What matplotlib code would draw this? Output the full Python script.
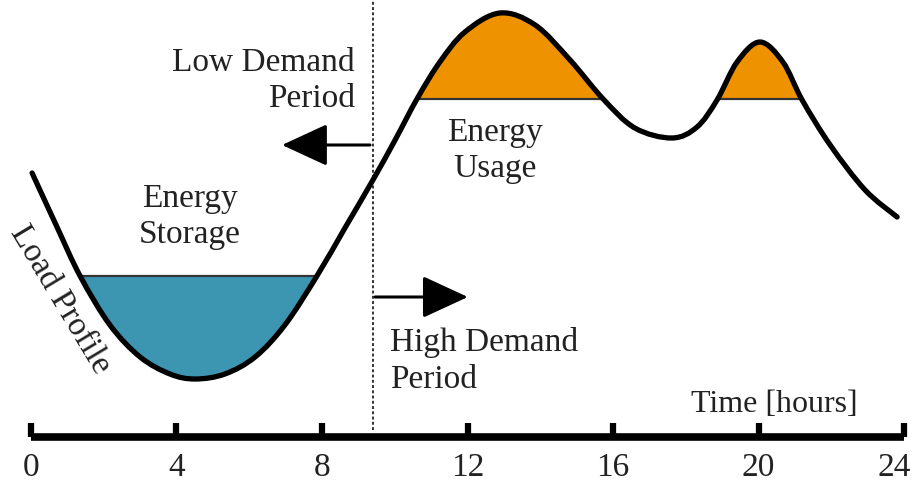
import matplotlib
matplotlib.use("Agg")
import matplotlib.pyplot as plt
import numpy as np
from matplotlib.path import Path
from matplotlib.patches import PathPatch, Rectangle, FancyArrowPatch

plt.rcParams["font.family"] = ["Liberation Serif", "DejaVu Serif"]

# ── Data ──────────────────────────────────────────────────────────────────────
HOURS = [0.03, 0.69, 1.35, 2.17, 3.00, 3.82, 4.51, 5.33, 6.16, 6.98, 7.86,
         8.63, 9.40, 10.01, 10.61, 11.24, 11.93, 12.89, 13.86, 14.82, 15.73,
         16.60, 17.62, 18.31, 18.86, 19.41, 20.04, 20.67, 21.20, 21.97,
         22.93, 23.81]
LOAD = [66, 53, 40.25, 28, 20, 15.75, 14.5, 15.75, 20, 28, 40.25,
        52.25, 64.25, 74.25, 84.5, 93.75, 101.25, 106, 103, 94.25, 84.5,
        77.25, 74.75, 77.5, 84.25, 93.75, 98.75, 93.75, 84.25, 73,
        61.75, 55]

STORAGE_LEVEL = 40.25
STORAGE_SPAN = (1.35, 7.86)
USAGE_LEVEL = 84.5
USAGE_SPANS = [(10.61, 15.73), (18.86, 21.20)]
SPLIT_HOUR = 9.40
TICKS = [0, 4, 8, 12, 16, 20, 24]

TEAL = "#3c96b2"
ORANGE = "#ef9200"
TXT = "#222222"


def smooth_path(xs, ys):
    # Catmull-Rom through the read points, drawn as cubic Bezier segments
    p = np.column_stack([xs, ys]).astype(float)
    verts = [p[0]]
    codes = [Path.MOVETO]
    n = len(p)
    for i in range(n - 1):
        p0 = p[i - 1] if i > 0 else p[i]
        p3 = p[i + 2] if i + 2 < n else p[i + 1]
        c1 = p[i] + (p[i + 1] - p0) / 6.0
        c2 = p[i + 1] - (p3 - p[i]) / 6.0
        verts += [c1, c2, p[i + 1]]
        codes += [Path.CURVE4] * 3
    return verts, codes


fig = plt.figure(figsize=(9.13, 4.83), dpi=100)
ax = fig.add_axes([0, 0, 1, 1])
ax.set_xlim(-0.852, 24.247)
ax.set_ylim(-11.5, 109.25)
ax.axis("off")

verts, codes = smooth_path(HOURS, LOAD)

# storage fill: region above the curve, below the storage level
v = verts + [(HOURS[-1], 200), (HOURS[0], 200), (HOURS[0], LOAD[0])]
c = codes + [Path.LINETO, Path.LINETO, Path.CLOSEPOLY]
storage = PathPatch(Path(v, c), facecolor=TEAL, edgecolor="none", zorder=1)
ax.add_patch(storage)
storage.set_clip_path(Rectangle((-5, -50), 40, STORAGE_LEVEL + 50,
                                transform=ax.transData))

# usage fill: region under the curve, above the usage level
v = verts + [(HOURS[-1], -50), (HOURS[0], -50), (HOURS[0], LOAD[0])]
usage = PathPatch(Path(v, c), facecolor=ORANGE, edgecolor="none", zorder=1)
ax.add_patch(usage)
usage.set_clip_path(Rectangle((-5, USAGE_LEVEL), 40, 100,
                              transform=ax.transData))

ax.hlines(STORAGE_LEVEL, *STORAGE_SPAN, color="#333333", lw=1.6, zorder=2)
for a, b in USAGE_SPANS:
    ax.hlines(USAGE_LEVEL, a, b, color="#333333", lw=1.6, zorder=2)

ax.add_patch(PathPatch(Path(verts, codes), facecolor="none",
                       edgecolor="black", lw=3.8, zorder=3,
                       capstyle="round"))

# time axis
ax.hlines(0, TICKS[0], TICKS[-1], color="black", lw=5.5, zorder=3,
          capstyle="butt")
ax.vlines(TICKS, 0, 3.4, color="black", lw=4.5, zorder=3)
for t in TICKS[:-1]:
    ax.text(t, -7.6, str(t), ha="center", va="center", fontsize=24,
            color=TXT)
ax.text(TICKS[-1] + 0.2, -7.6, str(TICKS[-1]), ha="right", va="center",
        fontsize=24, color=TXT)
ax.text(20.43, 8, "Time [hours]", ha="center", va="center", fontsize=23,
        color=TXT)

# split between demand periods
ax.vlines(SPLIT_HOUR, 1.8, 109.25, color="#333333", lw=1.4,
          linestyles=(0, (1.5, 1.2)), zorder=2)

arrow_kw = dict(arrowstyle="-|>,head_length=1.3,head_width=0.6",
                mutation_scale=22, color="black", lw=2.2, zorder=4,
                shrinkA=0, shrinkB=0)
ax.add_patch(FancyArrowPatch((9.32, 73), (6.90, 73), **arrow_kw))
ax.add_patch(FancyArrowPatch((9.46, 35), (12.01, 35), **arrow_kw))

ax.text(8.91, 89, "Low Demand\nPeriod", ha="right", va="center",
        multialignment="right", fontsize=24, color=TXT, linespacing=1.25)
ax.text(9.87, 19, "High Demand\nPeriod", ha="left", va="center",
        multialignment="left", fontsize=24, color=TXT, linespacing=1.25)
ax.text(4.37, 55, "Energy\nStorage", ha="center", va="center",
        fontsize=24, color=TXT, linespacing=1.25)
ax.text(12.76, 71.5, "Energy\nUsage", ha="center", va="center",
        fontsize=24, color=TXT, linespacing=1.25)
ax.text(0.80, 34.25, "Load Profile", ha="center", va="center",
        rotation=-59, fontsize=24, color=TXT, rotation_mode="anchor")

fig.savefig("out.png", dpi=100)
